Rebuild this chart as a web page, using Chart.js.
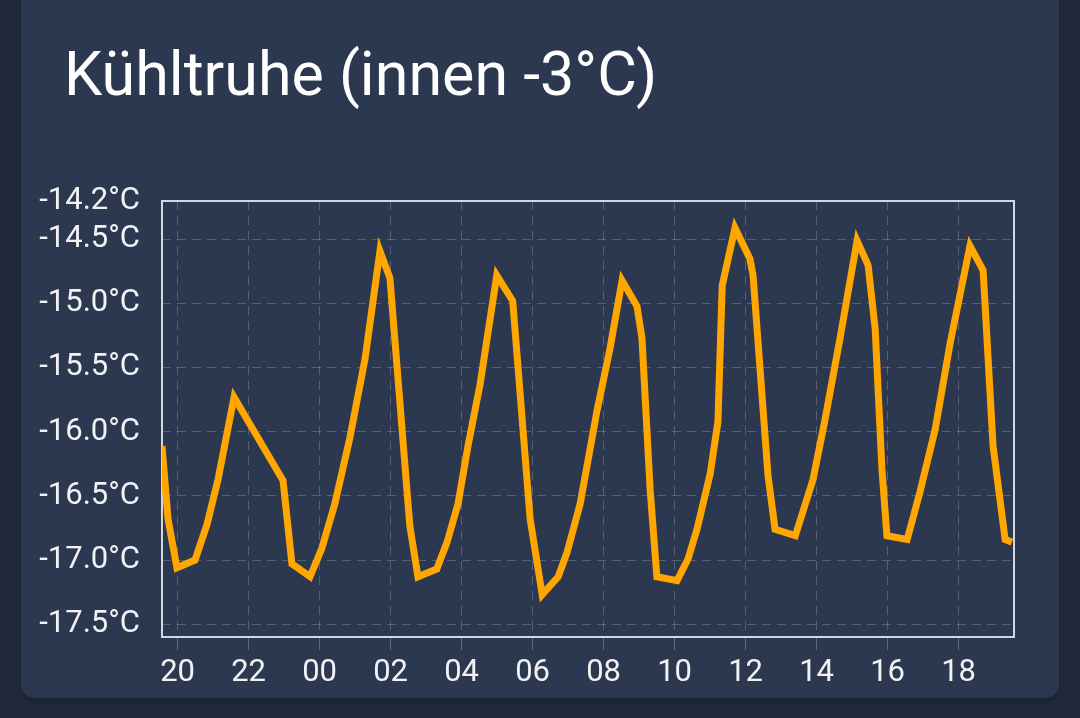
<!DOCTYPE html>
<html lang="de">
<head>
<meta charset="UTF-8">
<title>Kühltruhe</title>
<script src="https://cdn.jsdelivr.net/npm/chart.js@4.4.3/dist/chart.umd.min.js"></script>
<style>
  *, *::before, *::after { box-sizing: border-box; margin: 0; padding: 0; }
  body { background: #212a3b; width: 1080px; height: 718px; overflow: hidden; position: relative; font-family: Roboto, 'Noto Sans', sans-serif; }
  .card { position: absolute; left: 21px; top: -20px; width: 1038px; height: 718px; background: #2c3750; border-radius: 14px; box-shadow: 0 2px 8px rgba(0,0,0,0.25); }
  .title { position: absolute; left: 64px; top: 44px; font-size: 61px; line-height: 61px; color: #ffffff; font-weight: 400; white-space: nowrap; }
  #chart { position: absolute; left: 0; top: 0; }
</style>
</head>
<body>
<div class="card"></div>
<div class="title">Kühltruhe (innen -3°C)</div>
<canvas id="chart" width="1080" height="718"></canvas>

<script>
// hours since midnight of the first day (24 = 00:00 next day)
const hours = [
  19.56, 19.73, 19.98, 20.49, 20.83, 21.14, 21.59, 22.97, 23.22, 23.73,
  24.06, 24.43, 24.85, 25.28, 25.70, 25.98, 26.54, 26.77, 27.30, 27.59,
  27.90, 28.18, 28.52, 28.99, 29.44, 29.93, 30.27, 30.72, 30.97, 31.34,
  31.81, 32.18, 32.52, 32.94, 33.08, 33.31, 33.50, 34.07, 34.38, 34.63,
  35.00, 35.22, 35.34, 35.70, 36.12, 36.21, 36.63, 36.83, 37.40, 37.90,
  38.24, 38.66, 39.14, 39.45, 39.65, 39.84, 39.98, 40.55, 40.91, 41.34,
  41.76, 42.32, 42.69, 42.97, 43.31, 43.50
];
const temps = [
  -16.11, -16.68, -17.06, -17.00, -16.72, -16.37, -15.73, -16.38, -17.03, -17.13,
  -16.91, -16.56, -16.05, -15.43, -14.59, -14.80, -16.73, -17.13, -17.07, -16.86,
  -16.56, -16.11, -15.63, -14.78, -14.98, -16.68, -17.27, -17.13, -16.94, -16.56,
  -15.84, -15.35, -14.82, -15.02, -15.27, -16.45, -17.13, -17.16, -16.99, -16.76,
  -16.33, -15.92, -14.86, -14.41, -14.65, -14.78, -16.34, -16.76, -16.81, -16.37,
  -15.90, -15.27, -14.51, -14.70, -15.20, -16.29, -16.81, -16.84, -16.47, -15.98,
  -15.31, -14.55, -14.74, -16.11, -16.84, -16.86
];
const xTickHours = [20, 22, 24, 26, 28, 30, 32, 34, 36, 38, 40, 42];
const yTickValues = [-17.5, -17.0, -16.5, -16.0, -15.5, -15.0, -14.5, -14.2];
const xMin = 19.56, xMax = 43.56;
const yMin = -17.6, yMax = -14.2;

const GRID = 'rgba(255,255,255,0.2)';
const TICK_FONT = { family: 'Roboto', size: 31 };

const frame = {
  id: 'frame',
  beforeDatasetsDraw(chart) {
    const a = chart.chartArea, ctx = chart.ctx;
    ctx.save();
    ctx.strokeStyle = '#d3d7de';
    ctx.lineWidth = 2;
    ctx.strokeRect(a.left, a.top, a.right - a.left, a.bottom - a.top);
    ctx.restore();
  }
};

new Chart(document.getElementById('chart'), {
  type: 'line',
  data: {
    datasets: [{
      data: hours.map((h, i) => ({ x: h, y: temps[i] })),
      borderColor: '#ffa600',
      borderWidth: 7,
      pointRadius: 0,
      tension: 0,
      fill: false
    }]
  },
  options: {
    responsive: false,
    animation: false,
    layout: { padding: { top: 201, right: 66, bottom: 0, left: 0 } },
    plugins: { legend: { display: false }, tooltip: { enabled: false } },
    scales: {
      x: {
        type: 'linear',
        min: xMin,
        max: xMax,
        afterBuildTicks: s => { s.ticks = xTickHours.map(v => ({ value: v })); },
        afterFit: s => { s.height = 81; },
        ticks: {
          color: '#f2f2f2',
          font: TICK_FONT,
          padding: 5,
          maxRotation: 0,
          autoSkip: false,
          callback: v => String(Math.round(v) % 24).padStart(2, '0')
        },
        grid: { color: GRID, tickLength: 13, tickColor: 'rgba(255,255,255,0.25)', tickBorderDash: [] },
        border: { display: false, dash: [9, 6] }
      },
      y: {
        min: yMin,
        max: yMax,
        afterBuildTicks: s => { s.ticks = yTickValues.map(v => ({ value: v })); },
        afterFit: s => { s.width = 162; },
        ticks: {
          color: '#f2f2f2',
          font: TICK_FONT,
          padding: 22,
          callback: v => v.toFixed(1) + '°C'
        },
        grid: { color: GRID, drawTicks: false },
        border: { display: false, dash: [9, 6] }
      }
    }
  },
  plugins: [frame]
});
</script>
</body>
</html>
